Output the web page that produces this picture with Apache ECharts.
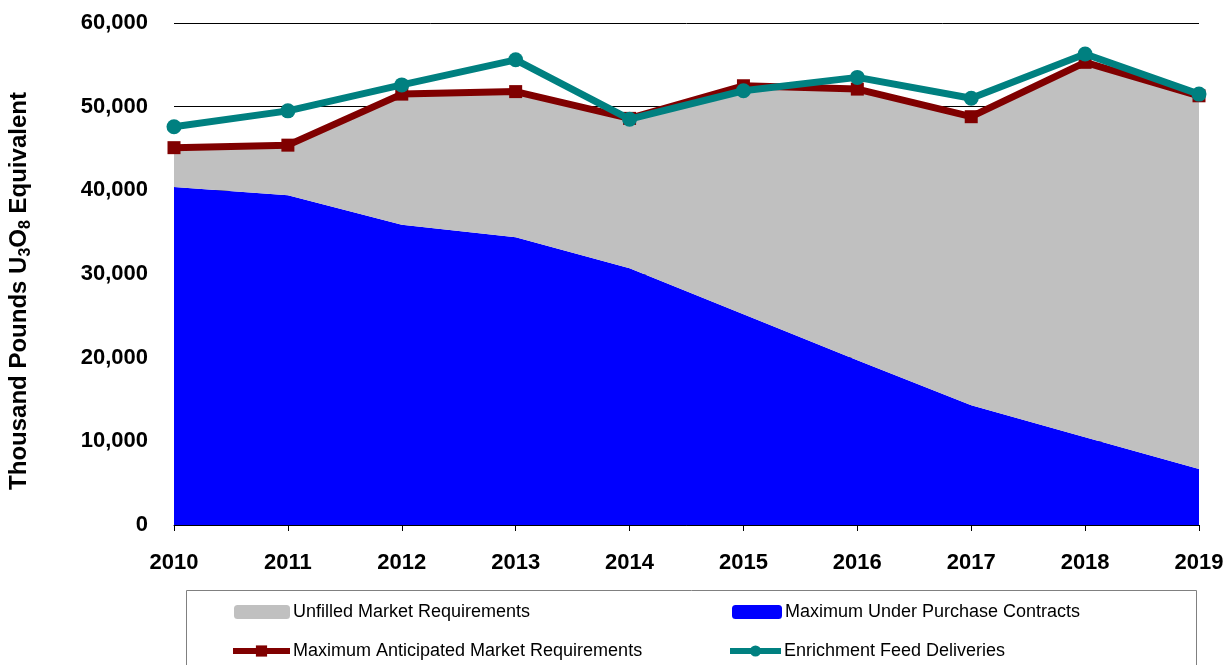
<!DOCTYPE html>
<html>
<head>
<meta charset="utf-8">
<script src="https://cdn.jsdelivr.net/npm/echarts@6/dist/echarts.min.js"></script>
<style>
html, body { margin: 0; padding: 0; background: #fff; }
#chart { width: 1226px; height: 665px; }
</style>
</head>
<body>
<div id="chart"></div>
<script>
// data (thousand pounds U3O8)
var years = ['2010', '2011', '2012', '2013', '2014', '2015', '2016', '2017', '2018', '2019'];
var underContract = [40400, 39400, 35900, 34400, 30700, 25200, 19700, 14300, 10500, 6700];
var unfilled = [4700, 6000, 15600, 17400, 17900, 27300, 32400, 34500, 44800, 44600];
var maxAnticipated = [45100, 45400, 51500, 51800, 48600, 52500, 52100, 48800, 55300, 51300];
var enrichmentFeed = [47600, 49500, 52600, 55600, 48500, 51900, 53500, 51000, 56300, 51500];

var font = 'Arial, "Liberation Sans", sans-serif';
var chart = echarts.init(document.getElementById('chart'));

function legendAt(name, left, top, w, icon) {
	var lg = {
		data: [name],
		left: left,
		top: top,
		itemWidth: w,
		itemHeight: 14,
		itemGap: 0,
		textStyle: { fontFamily: font, fontSize: 18, color: '#000', padding: [0, 0, 0, -2] }
	};
	if (icon) {
		lg.data = [{ name: name, icon: icon }];
	} else {
		lg.lineStyle = { width: 6 };
	}
	return lg;
}

var option = {
	animation: false,
	backgroundColor: '#fff',
	grid: { left: 174, right: 27, top: 23, bottom: 140, containLabel: false, outerBoundsMode: 'none' },
	legend: [
		legendAt('Unfilled Market Requirements', 229, 598, 56, 'roundRect'),
		legendAt('Maximum Under Purchase Contracts', 727, 598, 50, 'roundRect'),
		legendAt('Maximum Anticipated Market Requirements', 225, 637, 57),
		legendAt('Enrichment Feed Deliveries', 722, 637, 51)
	],
	graphic: [
		{
			type: 'rect',
			shape: { x: 186.5, y: 590.5, width: 1010, height: 90 },
			style: { fill: 'none', stroke: '#808080', lineWidth: 1 },
			z: 0
		},
		{
			type: 'text',
			x: 19,
			y: 291,
			rotation: Math.PI / 2,
			style: {
				text: '{t|Thousand Pounds U}{s|3}{t|O}{s|8}{t| Equivalent}',
				align: 'center',
				verticalAlign: 'middle',
				rich: {
					t: { fontFamily: font, fontSize: 24, fontWeight: 'bold', fill: '#000' },
					s: { fontFamily: font, fontSize: 16, fontWeight: 'bold', fill: '#000', padding: [14, 0, 0, 0] }
				}
			}
		}
	],
	xAxis: {
		type: 'category',
		data: years,
		boundaryGap: false,
		axisLine: { show: true, lineStyle: { color: '#000', width: 1 } },
		axisTick: { show: true, length: 6, lineStyle: { color: '#000' } },
		axisLabel: { margin: 27, fontFamily: font, fontSize: 22, fontWeight: 'bold', color: '#000' },
		splitLine: { show: false },
		z: 10
	},
	yAxis: {
		type: 'value',
		min: 0,
		max: 60000,
		interval: 10000,
		axisLine: { show: false },
		axisTick: { show: false },
		axisLabel: {
			margin: 26,
			fontFamily: font,
			fontSize: 22,
			fontWeight: 'bold',
			color: '#000',
			formatter: function (v) { return v.toLocaleString('en-US'); }
		},
		splitLine: { show: true, lineStyle: { color: '#000', width: 1 } }
	},
	series: [
		{
			name: 'Maximum Under Purchase Contracts',
			type: 'line',
			stack: 'req',
			data: underContract,
			symbol: 'none',
			lineStyle: { width: 0 },
			itemStyle: { color: '#0000ff' },
			areaStyle: { color: '#0000ff', opacity: 1 },
			z: 2
		},
		{
			name: 'Unfilled Market Requirements',
			type: 'line',
			stack: 'req',
			data: unfilled,
			symbol: 'none',
			lineStyle: { width: 0 },
			itemStyle: { color: '#c0c0c0' },
			areaStyle: { color: '#c0c0c0', opacity: 1 },
			z: 2
		},
		{
			name: 'Maximum Anticipated Market Requirements',
			type: 'line',
			data: maxAnticipated,
			symbol: 'rect',
			symbolSize: 13,
			lineStyle: { color: '#800000', width: 7 },
			itemStyle: { color: '#800000' },
			z: 4
		},
		{
			name: 'Enrichment Feed Deliveries',
			type: 'line',
			data: enrichmentFeed,
			symbol: 'circle',
			symbolSize: 15,
			lineStyle: { color: '#008080', width: 7 },
			itemStyle: { color: '#008080' },
			z: 5
		}
	]
};
chart.setOption(option);
</script>
</body>
</html>
